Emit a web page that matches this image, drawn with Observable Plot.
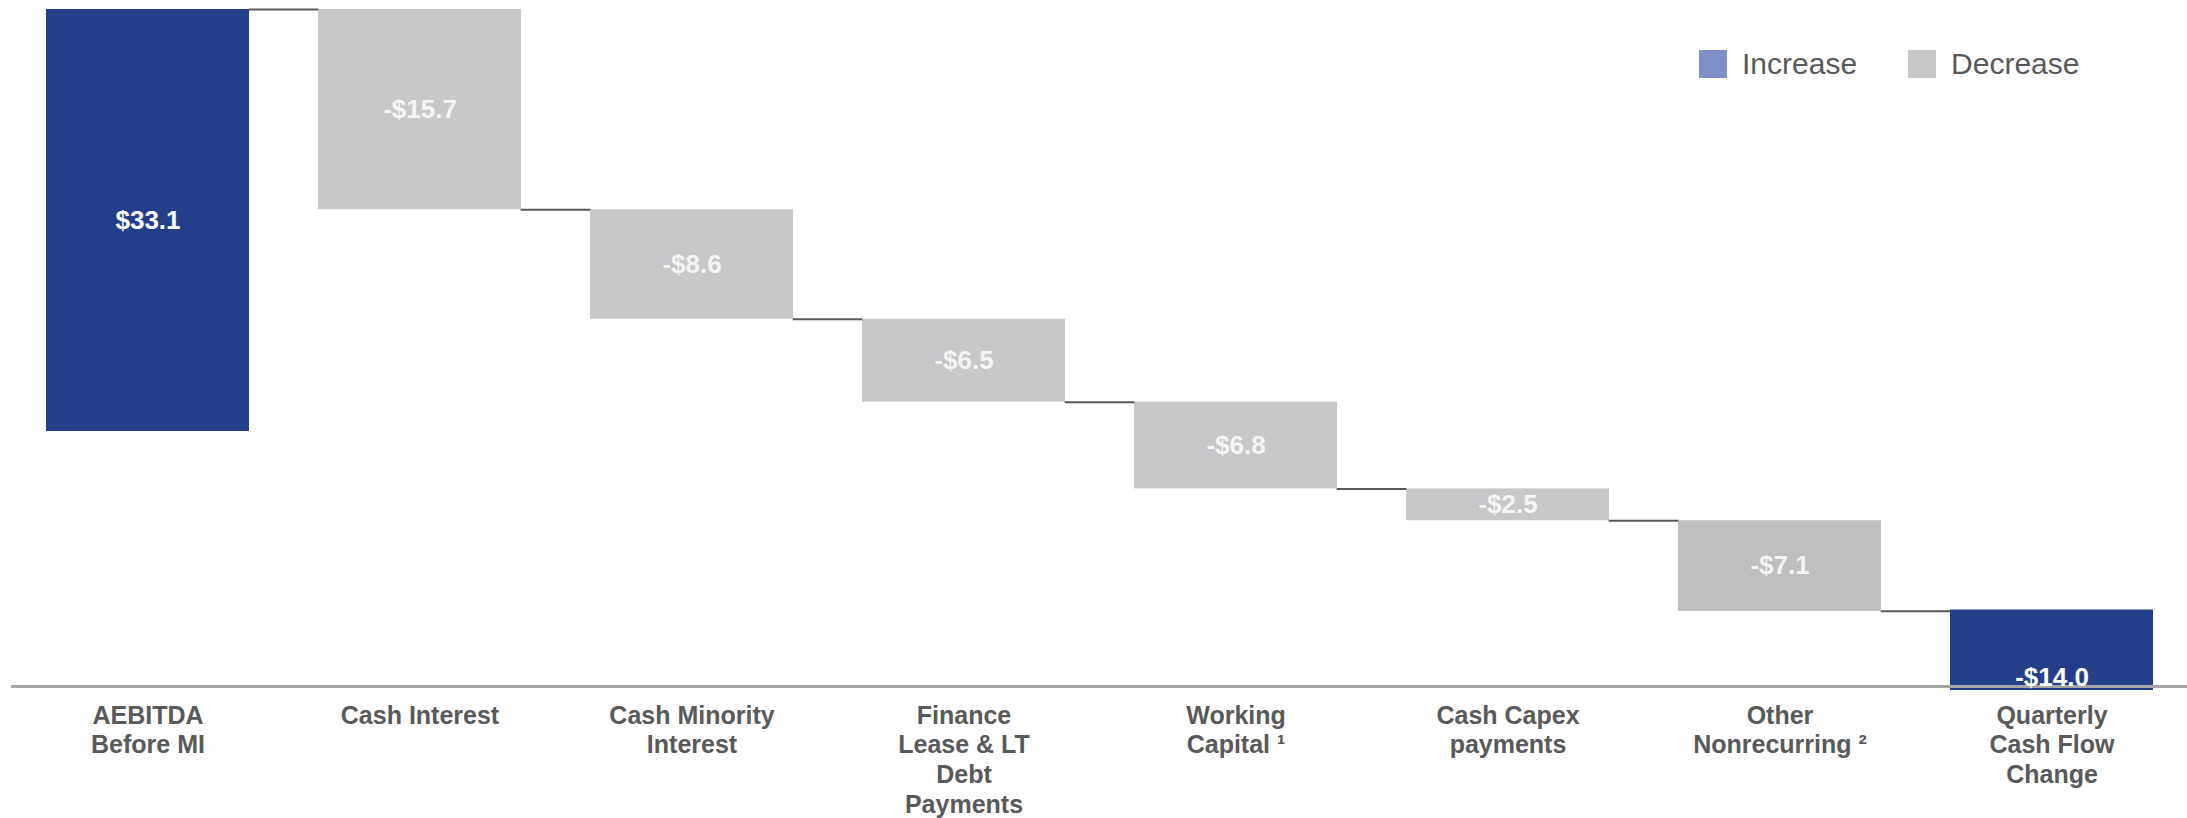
<!DOCTYPE html>
<html>
<head>
<meta charset="utf-8">
<script src="https://cdn.jsdelivr.net/npm/d3@7"></script>
<script src="https://cdn.jsdelivr.net/npm/@observablehq/plot@0.6"></script>
<style>
  html, body { margin: 0; padding: 0; background: #fff; }
  #wrap { position: relative; width: 2187px; height: 818px; font-family: "Liberation Sans", Arial, sans-serif; }
  #legend { position: absolute; left: 1699px; top: 47px; display: flex; align-items: center; font-size: 30px; color: #595959; }
  #legend .item { display: flex; align-items: center; margin-right: 51px; }
  #legend .sw { width: 28px; height: 28px; margin-right: 15px; }
</style>
</head>
<body>
<div id="wrap"></div>
<script>
// ---- data ----
const categories = [
  "AEBITDA\nBefore MI",
  "Cash Interest",
  "Cash Minority\nInterest",
  "Finance\nLease & LT\nDebt\nPayments",
  "Working\nCapital \u00B9",
  "Cash Capex\npayments",
  "Other\nNonrecurring \u00B2",
  "Quarterly\nCash Flow\nChange"
];
const values = [33.1, -15.7, -8.6, -6.5, -6.8, -2.5, -7.1, -14.0];
const kinds = ["Start", "Decrease", "Decrease", "Decrease", "Decrease", "Decrease", "Decrease", "Total"];
const legendLabels = ["Increase", "Decrease"];
const yFloor = -20;

// ---- styles ----
const BLUE = "#243F8A";
const GRAY = "#C8C7C9";
const GRAY_DARK = "#BFBFBF";
const LEGEND_COLORS = {Increase: "#7F8FC8", Decrease: "#C8C7C9"};
const W = 2187, H = 818, ML = 11, MR = 0, MT = 9, MB = 132;

// ---- derived rows ----
let cum = 0;
const rows = categories.map((cat, i) => {
  const v = values[i], kind = kinds[i];
  let y1, y2;
  if (kind === "Total") { y1 = v; y2 = yFloor; }
  else { y1 = cum; y2 = cum + v; cum += v; }
  return {cat, v, kind, y1, y2, end: cum,
    label: (v < 0 ? "-$" : "$") + Math.abs(v).toFixed(1),
    fill: (kind === "Decrease") ? (i === 6 ? GRAY_DARK : GRAY) : BLUE};
});
const links = rows.slice(0, -1).map((r, i) => ({from: r.cat, to: rows[i + 1].cat, level: r.end}));

const xOpts = {type: "band", domain: categories, range: [ML, W - MR], paddingInner: 0.255, paddingOuter: 0.1275};
const bw = Plot.scale({x: xOpts}).bandwidth;

const chart = Plot.plot({
  width: W, height: H,
  marginLeft: ML, marginRight: MR, marginTop: MT, marginBottom: MB,
  style: {fontFamily: "'Liberation Sans', Arial, sans-serif", background: "transparent", overflow: "visible"},
  x: {...xOpts, label: null},
  y: {domain: [yFloor, 33.1], axis: null},
  color: {type: "identity"},
  marks: [
    Plot.barY(rows.filter(d => d.kind !== "Total"), {x: "cat", y1: "y1", y2: "y2", fill: "fill"}),
    Plot.barY(rows.filter(d => d.kind === "Total"), {x: "cat", y1: "y1", y2: "y2", fill: "fill", insetBottom: -4}),
    Plot.ruleY(links, {x1: "from", x2: "to", y: "level", stroke: "#595959", strokeWidth: 2, insetLeft: bw, insetRight: bw}),
    Plot.ruleY([yFloor], {stroke: "#A6A6A6", strokeWidth: 3}),
    Plot.text(rows.filter(d => d.kind !== "Total"), {x: "cat", y: d => (d.y1 + d.y2) / 2, text: "label",
      fill: d => d.kind === "Decrease" ? "#F4F4F4" : "#FFFFFF", fontSize: 26, fontWeight: "bold"}),
    Plot.text(rows.filter(d => d.kind === "Total"), {x: "cat", y: "y2", text: "label", dy: -9,
      fill: "#FFFFFF", fontSize: 26, fontWeight: "bold"}),
    Plot.axisX({tickSize: 0, tickPadding: 16, fontSize: 25, fontWeight: "bold", color: "#595959", lineHeight: 1.19, label: null})
  ]
});

const wrap = document.getElementById("wrap");
wrap.appendChild(chart);

const legend = document.createElement("div");
legend.id = "legend";
legendLabels.forEach(name => {
  const item = document.createElement("div");
  item.className = "item";
  const sw = document.createElement("div");
  sw.className = "sw";
  sw.style.background = LEGEND_COLORS[name];
  const t = document.createElement("span");
  t.textContent = name;
  item.appendChild(sw); item.appendChild(t);
  legend.appendChild(item);
});
wrap.appendChild(legend);
</script>
</body>
</html>
